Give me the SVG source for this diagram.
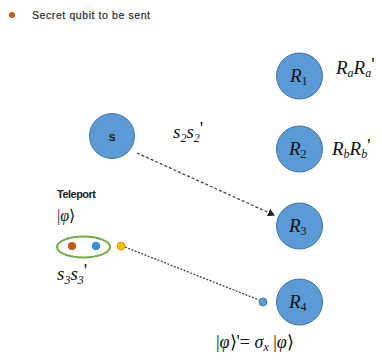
<svg xmlns="http://www.w3.org/2000/svg" width="382" height="364" viewBox="0 0 382 364">
<defs>
<style>
.node{fill:#5b9bd5;stroke:#41719c;stroke-width:1}
.m{font-family:"Liberation Serif","DejaVu Serif",serif;font-style:italic;fill:#111}
.lbl{font-family:"Liberation Sans","DejaVu Sans",sans-serif;font-weight:bold;fill:#222}
.sub{font-size:12px}
.conn{fill:none;stroke:#444;stroke-width:1.3}
</style>
<marker id="ah" markerWidth="8" markerHeight="8" refX="6" refY="4" orient="auto" markerUnits="userSpaceOnUse">
<path d="M0,0 L7,4 L0,8 z" fill="#222"/>
</marker>
</defs>
<rect width="382" height="364" fill="#fff"/>

<g id="legend">
<circle cx="12" cy="15" r="3" fill="#c55a11"/>
<text x="32" y="19" font-size="10.5" font-family="Liberation Sans, sans-serif" fill="#333" textLength="118" style="font-weight:normal;stroke:#333;stroke-width:0.25">Secret qubit to be sent</text>
</g>

<g id="connectors">
<line class="conn" x1="137" y1="153" x2="274" y2="215" stroke-dasharray="3,2" marker-end="url(#ah)"/>
<line class="conn" x1="125" y1="247" x2="259" y2="300" stroke-dasharray="2,1.5" stroke="#555" stroke-width="1.1"/>
</g>

<g id="s">
<circle class="node" cx="112" cy="136" r="22.5"/>
<text class="lbl" x="112" y="141" font-size="13" text-anchor="middle" fill="#1f2a44">s</text>
</g>
<g id="s2label"><text class="m" x="173" y="138" font-size="19">s<tspan class="sub" dy="4">2</tspan><tspan dy="-4">s</tspan><tspan class="sub" dy="4">2</tspan><tspan dy="-7" font-style="normal">'</tspan></text></g>

<g id="R1">
<circle class="node" cx="299.5" cy="76" r="23"/>
<text class="m" x="290" y="82" font-size="19">R<tspan class="sub" dy="3" font-style="normal">1</tspan></text>
</g>
<g id="R1label"><text class="m" x="336" y="74" font-size="19">R<tspan class="sub" dy="3">a</tspan><tspan dy="-3">R</tspan><tspan class="sub" dy="3">a</tspan><tspan dy="-6" font-style="normal">'</tspan></text></g>

<g id="R2">
<circle class="node" cx="299.5" cy="149" r="23"/>
<text class="m" x="289" y="155" font-size="19">R<tspan class="sub" dy="3" font-style="normal">2</tspan></text>
</g>
<g id="R2label"><text class="m" x="332" y="155" font-size="19">R<tspan class="sub" dy="3">b</tspan><tspan dy="-3">R</tspan><tspan class="sub" dy="3">b</tspan><tspan dy="-6" font-style="normal">'</tspan></text></g>

<g id="R3">
<circle class="node" cx="299.5" cy="226" r="23"/>
<text class="m" x="289" y="232" font-size="19">R<tspan class="sub" dy="3" font-style="normal">3</tspan></text>
</g>

<g id="R4">
<circle class="node" cx="299.5" cy="302" r="23"/>
<text class="m" x="289" y="308" font-size="19">R<tspan class="sub" dy="3" font-style="normal">4</tspan></text>
</g>
<circle cx="263" cy="302" r="4" fill="#5b9bd5" stroke="#41719c" stroke-width="0.8"/>

<g id="teleport">
<text class="lbl" x="57" y="198" font-size="11" textLength="39">Teleport</text>
<text x="57" y="221" font-size="16" font-family="Liberation Serif, serif" fill="#111">|<tspan font-style="italic">φ</tspan>⟩</text>
<ellipse cx="83.5" cy="247" rx="26.5" ry="10.5" fill="none" stroke="#70ad47" stroke-width="2"/>
<circle cx="72" cy="246" r="4" fill="#c55a11"/>
<circle cx="96" cy="246" r="4.2" fill="#3a8ee0"/>
<circle cx="121" cy="246" r="4" fill="#ffc000" stroke="#bf9000" stroke-width="0.8"/>
</g>
<g id="s3label"><text class="m" x="57" y="280" font-size="19">s<tspan class="sub" dy="4">3</tspan><tspan dy="-4">s</tspan><tspan class="sub" dy="4">3</tspan><tspan dy="-7" font-style="normal">'</tspan></text></g>

<g id="formula"><text x="216" y="348" font-size="18" font-family="Liberation Serif, serif" fill="#111">|<tspan font-style="italic">φ</tspan>⟩'= <tspan font-style="italic">σ</tspan><tspan font-size="12" font-style="italic" dy="3">x</tspan><tspan dy="-3"> |</tspan><tspan font-style="italic">φ</tspan>⟩</text></g>
</svg>
